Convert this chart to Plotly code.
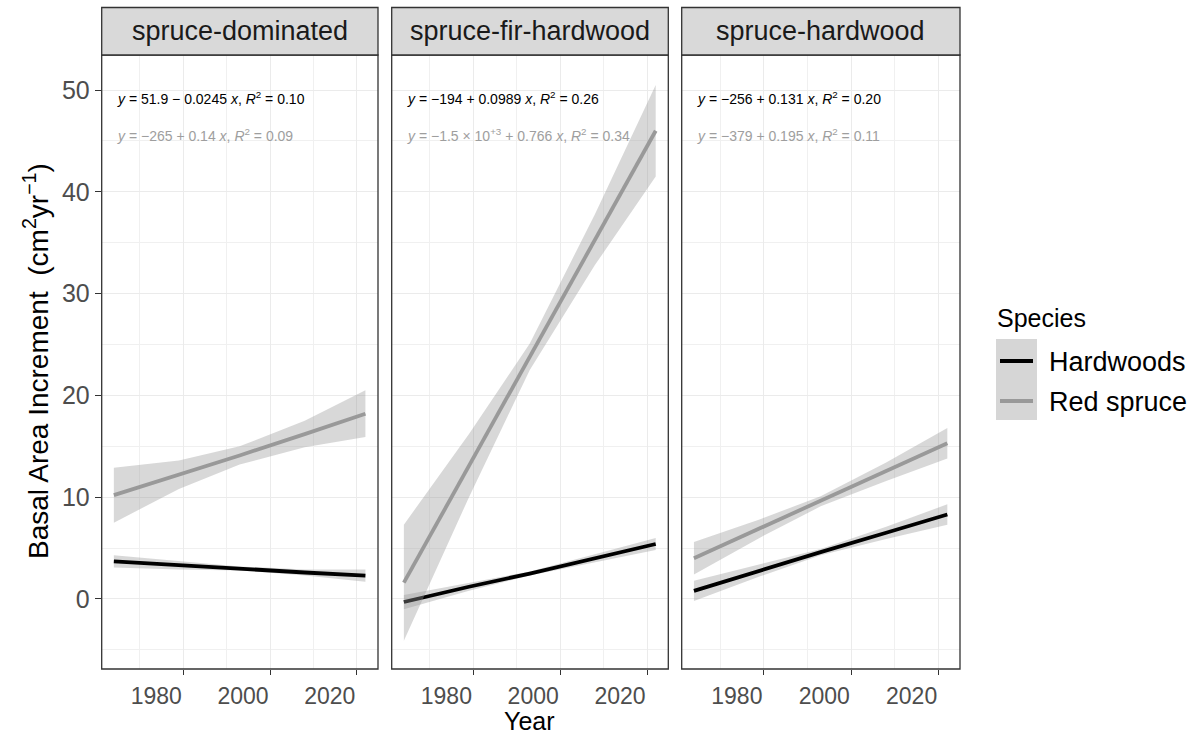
import plotly.graph_objects as go

W, H = 1196, 736

# ---------------- data ----------------
facets = ["spruce-dominated", "spruce-fir-hardwood", "spruce-hardwood"]
species = ["Hardwoods", "Red spruce"]
years = [1964, 1979, 1993, 2008, 2022]

# spruce-dominated
sd_hw_fit = [3.7, 3.3, 3.0, 2.6, 2.3]
sd_hw_lo = [3.1, 2.9, 2.8, 2.3, 1.7]
sd_hw_hi = [4.3, 3.7, 3.2, 2.9, 2.9]
sd_rs_fit = [10.2, 12.2, 14.1, 16.2, 18.2]
sd_rs_lo = [7.5, 10.8, 13.2, 14.9, 15.9]
sd_rs_hi = [12.9, 13.6, 15.0, 17.5, 20.5]

# spruce-fir-hardwood
sfh_hw_fit = [-0.3, 1.2, 2.5, 4.0, 5.4]
sfh_hw_lo = [-1.0, 0.8, 2.3, 3.6, 4.8]
sfh_hw_hi = [0.4, 1.6, 2.7, 4.4, 6.0]
sfh_rs_fit = [1.6, 13.1, 23.8, 35.3, 46.0]
sfh_rs_lo = [-4.1, 10.0, 22.5, 32.8, 41.5]
sfh_rs_hi = [7.3, 16.2, 25.1, 37.8, 50.5]

# spruce-hardwood
sh_hw_fit = [0.8, 2.8, 4.6, 6.5, 8.3]
sh_hw_lo = [-0.2, 2.2, 4.3, 5.9, 7.3]
sh_hw_hi = [1.8, 3.4, 4.9, 7.1, 9.3]
sh_rs_fit = [4.0, 6.9, 9.6, 12.5, 15.3]
sh_rs_lo = [2.4, 6.0, 9.1, 11.6, 13.8]
sh_rs_hi = [5.6, 7.8, 10.1, 13.4, 16.8]

hw_eq = [
    "<i>y</i> = 51.9 − 0.0245 <i>x</i>, <i>R</i><sup>2</sup> = 0.10",
    "<i>y</i> = −194 + 0.0989 <i>x</i>, <i>R</i><sup>2</sup> = 0.26",
    "<i>y</i> = −256 + 0.131 <i>x</i>, <i>R</i><sup>2</sup> = 0.20",
]
rs_eq = [
    "<i>y</i> = −265 + 0.14 <i>x</i>, <i>R</i><sup>2</sup> = 0.09",
    "<i>y</i> = −1.5 × 10<sup>+3</sup> + 0.766 <i>x</i>, <i>R</i><sup>2</sup> = 0.34",
    "<i>y</i> = −379 + 0.195 <i>x</i>, <i>R</i><sup>2</sup> = 0.11",
]

x_ticks = [1980, 2000, 2020]
y_ticks = [0, 10, 20, 30, 40, 50]

panel_data = [
    [(sd_hw_fit, sd_hw_lo, sd_hw_hi), (sd_rs_fit, sd_rs_lo, sd_rs_hi)],
    [(sfh_hw_fit, sfh_hw_lo, sfh_hw_hi), (sfh_rs_fit, sfh_rs_lo, sfh_rs_hi)],
    [(sh_hw_fit, sh_hw_lo, sh_hw_hi), (sh_rs_fit, sh_rs_lo, sh_rs_hi)],
]

# ---------------- style / layout ----------------
FONT = "Liberation Sans, Arial, sans-serif"
line_colors = {"Hardwoods": "#000000", "Red spruce": "#999999"}
band_fill = "rgba(153,153,153,0.38)"
LINE_W = 3.8
X_RANGE = [1961.2, 2024.9]
Y_RANGE = [-6.88, 53.44]
TICK_SIZE = 23

panel_px = [(101.7, 378.0), (391.7, 668.3), (681.7, 960.0)]
top_px, bot_px, strip_top_px = 55.0, 669.0, 7.5


def px(x):
    return x / W


def py(y):
    return 1 - y / H


fig = go.Figure()
layout = dict(
    width=W, height=H, margin=dict(l=0, r=0, t=0, b=0),
    paper_bgcolor="white", plot_bgcolor="white", showlegend=False,
    font=dict(family=FONT, color="#1a1a1a"),
)
shapes, annotations = [], []

for i, (fname, pdat) in enumerate(zip(facets, panel_data)):
    n = "" if i == 0 else str(i + 1)
    xa, ya = "x" + n, "y" + n
    for sp, (fit, lo, hi) in zip(species, pdat):
        fig.add_trace(go.Scatter(
            x=years + years[::-1], y=hi + lo[::-1], xaxis=xa, yaxis=ya,
            fill="toself", fillcolor=band_fill, line=dict(width=0),
            mode="lines", hoverinfo="skip"))
        fig.add_trace(go.Scatter(
            x=years, y=fit, xaxis=xa, yaxis=ya, mode="lines",
            line=dict(color=line_colors[sp], width=LINE_W), name=sp))
    x0, x1 = panel_px[i]
    layout["xaxis" + n] = dict(
        domain=[px(x0), px(x1)], range=X_RANGE, anchor=ya,
        tickmode="array", tickvals=x_ticks, showgrid=True,
        gridcolor="#ebebeb", gridwidth=1.1, zeroline=False, showline=False,
        ticks="outside", ticklen=5, tickwidth=1.1, tickcolor="#333333",
        ticklabelshift=-27, ticklabelstandoff=1,
        tickfont=dict(size=TICK_SIZE, color="#4d4d4d", family=FONT),
        minor=dict(tick0=1970, dtick=10, showgrid=True, gridcolor="#f0f0f0",
                   gridwidth=0.6, ticks=""),
    )
    layout["yaxis" + n] = dict(
        domain=[py(bot_px), py(top_px)], range=Y_RANGE, anchor=xa,
        tickmode="array", tickvals=y_ticks, showgrid=True,
        gridcolor="#ebebeb", gridwidth=1.1, zeroline=False, showline=False,
        ticks="outside" if i == 0 else "", ticklen=6, tickwidth=1.1,
        tickcolor="#333333", showticklabels=(i == 0),
        tickfont=dict(size=25, color="#4d4d4d", family=FONT),
        minor=dict(tick0=-5, dtick=10, showgrid=True, gridcolor="#f0f0f0",
                   gridwidth=0.6, ticks=""),
    )
    # panel border
    shapes.append(dict(type="rect", xref="paper", yref="paper",
                       x0=px(x0), x1=px(x1), y0=py(bot_px), y1=py(top_px),
                       line=dict(color="#333333", width=1.3), layer="above"))
    # strip
    shapes.append(dict(type="rect", xref="paper", yref="paper",
                       x0=px(x0), x1=px(x1), y0=py(top_px), y1=py(strip_top_px),
                       fillcolor="#d9d9d9", line=dict(color="#333333", width=1.3)))
    annotations.append(dict(text=fname, xref="paper", yref="paper",
                            x=px((x0 + x1) / 2), y=py((top_px + strip_top_px) / 2),
                            showarrow=False, font=dict(size=27, color="#1a1a1a"),
                            xanchor="center", yanchor="middle"))
    # equations
    annotations.append(dict(text=hw_eq[i], xref="paper", yref="paper",
                            x=px(x0 + 13), y=py(98), showarrow=False,
                            xanchor="left", yanchor="middle",
                            font=dict(size=14, color="#000000")))
    annotations.append(dict(text=rs_eq[i], xref="paper", yref="paper",
                            x=px(x0 + 13), y=py(134.5), showarrow=False,
                            xanchor="left", yanchor="middle",
                            font=dict(size=14, color="#9e9e9e")))

# axis titles
annotations.append(dict(text="Year", xref="paper", yref="paper",
                        x=px(529), y=0.0, showarrow=False, borderpad=0,
                        xanchor="center", yanchor="bottom",
                        font=dict(size=25, color="#000000")))
annotations.append(dict(text="Basal Area Increment  (cm<sup>2</sup>yr<sup>−1</sup>)",
                        xref="paper", yref="paper", x=px(36), y=py(361),
                        showarrow=False, textangle=-90,
                        xanchor="center", yanchor="middle",
                        font=dict(size=28, color="#000000")))

# legend (drawn manually like ggplot's key)
annotations.append(dict(text="Species", xref="paper", yref="paper",
                        x=px(995), y=py(318), showarrow=False,
                        xanchor="left", yanchor="middle",
                        font=dict(size=25, color="#000000")))
shapes.append(dict(type="rect", xref="paper", yref="paper",
                   x0=px(996), x1=px(1037), y0=py(420), y1=py(339),
                   fillcolor="#d6d6d6", line=dict(width=0)))
for sp, ky in zip(species, [361, 401]):
    shapes.append(dict(type="line", xref="paper", yref="paper",
                       x0=px(1000), x1=px(1033), y0=py(ky), y1=py(ky),
                       line=dict(color=line_colors[sp], width=LINE_W)))
    annotations.append(dict(text=sp, xref="paper", yref="paper",
                            x=px(1047), y=py(ky + 1), showarrow=False,
                            xanchor="left", yanchor="middle",
                            font=dict(size=27, color="#000000")))

layout["shapes"] = shapes
layout["annotations"] = annotations
fig.update_layout(**layout)
fig.write_html("out.html")
